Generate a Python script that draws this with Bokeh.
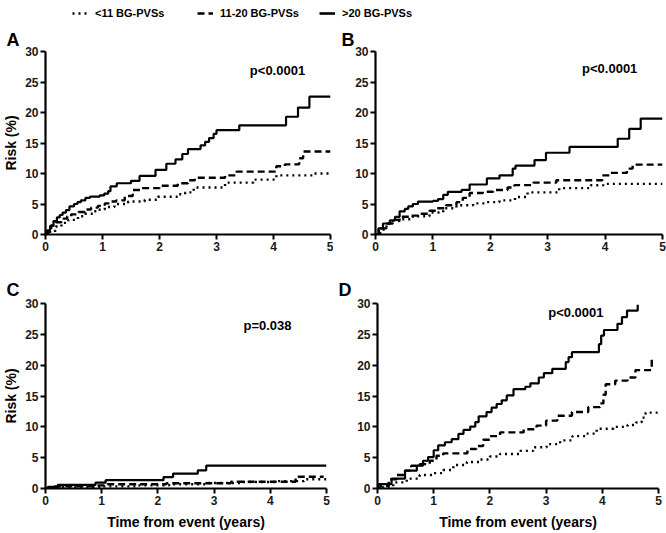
from bokeh.plotting import figure
from bokeh.models import Range1d, Label, Legend, LegendItem, FixedTicker
from bokeh.layouts import column, row
from bokeh.embed import file_html
from bokeh.resources import INLINE

FONT = "Liberation Sans"

# ---------------- data ----------------
series_labels = ["<11 BG-PVSs", "11-20 BG-PVSs", ">20 BG-PVSs"]
panel_letters = ["A", "B", "C", "D"]
p_values = ["p<0.0001", "p<0.0001", "p=0.038", "p<0.0001"]
x_ticks = [0, 1, 2, 3, 4, 5]
y_ticks = [0, 5, 10, 15, 20, 25, 30]

# Panel A
a_solid_x = [0, 0.03, 0.08, 0.14, 0.2, 0.25, 0.3, 0.36, 0.42, 0.5, 0.56, 0.62, 0.7, 0.78, 0.95, 1.03, 1.1, 1.14,
             1.25, 1.5, 1.65, 1.93, 2.12, 2.28, 2.4, 2.5, 2.72, 2.8, 2.87, 2.95, 3.0, 3.4, 4.22, 4.43, 4.63, 5.0]
a_solid_y = [0, 0.7, 1.4, 2.2, 2.8, 3.2, 3.6, 4.0, 4.6, 5.0, 5.3, 5.6, 6.0, 6.2, 6.4, 6.7, 7.1, 7.9,
             8.4, 8.8, 9.6, 10.6, 11.6, 12.3, 13.2, 14.0, 14.6, 15.2, 15.8, 16.5, 17.1, 17.9, 19.3, 20.8, 22.6, 22.6]
a_dash_x = [0, 0.05, 0.1, 0.18, 0.28, 0.38, 0.45, 0.58, 0.69, 0.8, 0.92, 1.04, 1.15, 1.24, 1.39, 1.53, 1.68, 2.0,
            2.32, 2.5, 2.62, 3.15, 3.35, 4.05, 4.2, 4.45, 4.52, 5.0]
a_dash_y = [0, 0.8, 1.5, 2.0, 2.6, 3.0, 3.3, 3.7, 4.1, 4.4, 4.7, 5.1, 5.4, 5.6, 6.3, 7.3, 7.6, 8.0,
            8.4, 8.9, 9.3, 9.7, 10.3, 11.2, 11.5, 12.5, 13.6, 13.6]
a_dot_x = [0, 0.08, 0.18, 0.28, 0.4, 0.57, 0.7, 0.83, 0.95, 1.04, 1.21, 1.45, 1.74, 1.97, 2.32, 2.45, 2.6, 3.15,
           3.65, 4.05, 4.7, 5.0]
a_dot_y = [0, 0.6, 1.3, 1.9, 2.4, 3.0, 3.4, 3.8, 4.1, 4.5, 5.0, 5.4, 5.7, 6.2, 6.6, 6.9, 7.7, 8.5,
           9.0, 9.7, 10.0, 10.0]

# Panel B
b_solid_x = [0, 0.05, 0.13, 0.25, 0.34, 0.42, 0.51, 0.57, 0.65, 0.74, 1.0, 1.09, 1.18, 1.26, 1.5, 1.64, 1.94,
             2.16, 2.39, 2.44, 2.77, 2.97, 3.38, 4.22, 4.42, 4.62, 5.0]
b_solid_y = [0, 1.0, 1.8, 2.3, 2.9, 3.8, 4.2, 4.6, 5.0, 5.4, 5.5, 5.8, 6.5, 7.0, 7.3, 8.2, 9.2,
             9.7, 10.8, 11.3, 12.2, 13.4, 14.35, 15.7, 17.3, 19.0, 19.0]
b_dash_x = [0, 0.08, 0.19, 0.3, 0.42, 0.6, 0.77, 0.94, 1.06, 1.23, 1.41, 1.52, 1.64, 1.87, 2.05, 2.3, 2.42,
            2.75, 3.15, 3.95, 4.1, 4.38, 4.48, 5.0]
b_dash_y = [0, 1.0, 1.8, 2.4, 2.9, 3.1, 3.4, 3.9, 4.3, 4.8, 5.3, 6.0, 6.8, 7.0, 7.3, 7.7, 8.1,
            8.5, 8.9, 9.7, 10.1, 10.8, 11.45, 11.45]
b_dot_x = [0, 0.06, 0.19, 0.3, 0.42, 0.65, 0.94, 1.18, 1.41, 1.7, 1.93, 2.16, 2.43, 2.65, 3.2, 3.75, 3.97, 5.0]
b_dot_y = [0, 0.8, 1.8, 2.2, 2.5, 3.0, 3.6, 4.3, 4.8, 5.1, 5.3, 5.6, 6.15, 6.9, 7.6, 8.07, 8.3, 8.3]

# Panel C
c_solid_x = [0, 0.04, 0.22, 0.89, 1.07, 2.1, 2.27, 2.71, 2.86, 5.0]
c_solid_y = [0, 0.25, 0.6, 0.95, 1.35, 1.85, 2.4, 2.95, 3.7, 3.7]
c_dash_x = [0, 0.13, 0.9, 1.1, 2.15, 3.3, 4.45, 4.95]
c_dash_y = [0, 0.35, 0.5, 0.7, 0.85, 1.1, 1.9, 1.9]
c_dot_x = [0, 0.3, 1.0, 1.6, 2.2, 2.9, 3.5, 4.1, 4.6, 5.0]
c_dot_y = [0, 0.2, 0.35, 0.5, 0.7, 0.9, 1.05, 1.2, 1.5, 1.5]

# Panel D
d_solid_x = [0, 0.02, 0.25, 0.49, 0.7, 0.81, 0.9, 1.0, 1.08, 1.2, 1.32, 1.44, 1.53, 1.65, 1.74, 1.8, 1.94, 2.03,
             2.12, 2.21, 2.3, 2.42, 2.63, 2.72, 2.87, 2.96, 3.11, 3.35, 3.4, 3.46, 3.94, 3.98, 4.03, 4.27, 4.35,
             4.44, 4.63]
d_solid_y = [0, 0.7, 1.6, 2.9, 3.7, 4.5, 5.1, 6.2, 7.0, 7.5, 8.0, 8.85, 9.5, 10.05, 10.75, 11.7, 12.4, 13.1,
             13.7, 14.3, 15.1, 16.1, 16.5, 17.05, 18.0, 18.7, 19.4, 20.5, 21.3, 22.1, 23.4, 24.8, 25.7, 26.7, 27.8,
             28.85, 29.8]
d_dash_x = [0, 0.05, 0.2, 0.34, 0.49, 0.6, 0.75, 0.93, 1.05, 1.17, 1.6, 1.76, 1.88, 2.0, 2.18, 2.6, 2.83, 3.0,
            3.2, 3.46, 3.75, 3.96, 4.02, 4.06, 4.23, 4.45, 4.59, 4.88]
d_dash_y = [0, 0.4, 1.5, 2.2, 2.9, 3.7, 3.95, 4.5, 5.3, 5.7, 6.4, 6.9, 7.9, 8.5, 9.1, 9.6, 10.2, 11.0,
            11.8, 12.4, 13.2, 13.8, 15.2, 16.9, 17.5, 18.0, 19.2, 21.0]
d_dot_x = [0, 0.1, 0.28, 0.52, 0.75, 0.99, 1.17, 1.35, 1.59, 1.82, 2.0, 2.18, 2.54, 2.77, 3.01, 3.25, 3.47, 3.7,
           3.9, 4.2, 4.45, 4.6, 4.7, 4.77, 5.0]
d_dot_y = [0, 0.3, 1.0, 1.6, 2.2, 2.5, 3.0, 3.8, 4.3, 4.7, 5.2, 5.6, 6.1, 6.7, 7.2, 7.8, 8.5, 8.9,
           9.7, 10.0, 10.3, 10.7, 11.5, 12.3, 12.3]

# annotation positions
p_pos_x = [4.07, 4.08, 3.95, 3.53]
p_pos_y = [26.9, 27.2, 26.5, 28.6]

DOT = "2 4"
DASH = "7 4"


def panel(idx, dots, dashes, solids, width, height, mbl, mbr, mbt, mbb, ylabel, xlabel,
          letter_offset, letter_standoff):
    p = figure(width=width, height=height, x_range=Range1d(0, 5), y_range=Range1d(0, 30),
               output_backend="svg", toolbar_location=None,
               min_border_left=mbl, min_border_right=mbr, min_border_top=mbt, min_border_bottom=mbb)
    p.outline_line_color = None
    p.grid.visible = False
    # panel letter as the figure title
    p.title.text = panel_letters[idx]
    p.title.align = "left"
    p.title.offset = letter_offset
    p.title.standoff = letter_standoff
    p.title.text_font = FONT
    p.title.text_font_style = "bold"
    p.title.text_font_size = "18px"
    p.title.text_color = "black"
    for ax, ticks in ((p.xaxis, x_ticks), (p.yaxis, y_ticks)):
        ax.ticker = FixedTicker(ticks=ticks)
        ax.minor_tick_line_color = None
        ax.major_tick_in = 0
        ax.major_tick_out = 5
        ax.axis_line_width = 2.2
        ax.major_tick_line_width = 2
        ax.axis_line_color = "black"
        ax.major_tick_line_color = "black"
        ax.major_label_text_font = FONT
        ax.major_label_text_font_style = "bold"
        ax.major_label_text_font_size = "12px"
        ax.major_label_text_color = "#1a1a1a"
        ax.major_label_standoff = 2
        ax.axis_label_text_font = FONT
        ax.axis_label_text_font_style = "bold"
        ax.axis_label_text_font_size = "14px"
        ax.axis_label_text_color = "black"
    if ylabel:
        p.yaxis.axis_label = "Risk (%)"
        p.yaxis.axis_label_standoff = 3
    if xlabel:
        p.xaxis.axis_label = "Time from event (years)"
        p.xaxis.axis_label_standoff = 6

    p.step(dots[0], dots[1], mode="after", line_color="black", line_width=2.4, line_dash=DOT)
    p.step(dashes[0], dashes[1], mode="after", line_color="black", line_width=2.4, line_dash=DASH)
    p.step(solids[0], solids[1], mode="after", line_color="black", line_width=2.2)

    p.add_layout(Label(x=p_pos_x[idx], y=p_pos_y[idx], text=p_values[idx], text_font=FONT,
                       text_font_style="bold", text_font_size="13px", text_align="center",
                       text_baseline="middle", text_color="black"))
    return p


pa = panel(0, (a_dot_x, a_dot_y), (a_dash_x, a_dash_y), (a_solid_x, a_solid_y),
           333, 244, 44, 3, 23, 36, True, False, -39, 3)
pb = panel(1, (b_dot_x, b_dot_y), (b_dash_x, b_dash_y), (b_solid_x, b_solid_y),
           333, 244, 42, 4, 23, 36, False, False, -34, 3)
pc = panel(2, (c_dot_x, c_dot_y), (c_dash_x, c_dash_y), (c_solid_x, c_solid_y),
           333, 262, 43, 7, 33, 44, True, True, -39, 8)
pd = panel(3, (d_dot_x, d_dot_y), (d_dash_x, d_dash_y), (d_solid_x, d_solid_y),
           333, 262, 44, 8, 33, 44, False, True, -39, 8)

# legend strip
lg = figure(width=666, height=26, x_range=Range1d(0, 1), y_range=Range1d(0, 1),
            output_backend="svg", toolbar_location=None, x_axis_type=None, y_axis_type=None,
            min_border_left=0, min_border_right=0, min_border_top=0, min_border_bottom=0)
lg.outline_line_color = None
lg.grid.visible = False
nan = float("nan")
r_dot = lg.line(x=[nan], y=[nan], line_color="black", line_width=2.4, line_dash=DOT)
r_dash = lg.line(x=[nan], y=[nan], line_color="black", line_width=2.4, line_dash=DASH)
r_solid = lg.line(x=[nan], y=[nan], line_color="black", line_width=2.6)
legend_x = [72, 197, 319]
for lbl, rend, lx in zip(series_labels, (r_dot, r_dash, r_solid), legend_x):
    lg.add_layout(Legend(items=[LegendItem(label=lbl, renderers=[rend])],
                         orientation="horizontal", location=(lx, 7), padding=0, margin=0, spacing=0,
                         glyph_width=16, glyph_height=12, label_standoff=7, label_height=12,
                         label_text_font=FONT, label_text_font_style="bold", label_text_font_size="11px",
                         label_text_color="black", border_line_color=None, background_fill_alpha=0))

layout = column(lg, row(pa, pb), row(pc, pd))

with open("out.html", "w") as f:
    f.write(file_html(layout, INLINE))
